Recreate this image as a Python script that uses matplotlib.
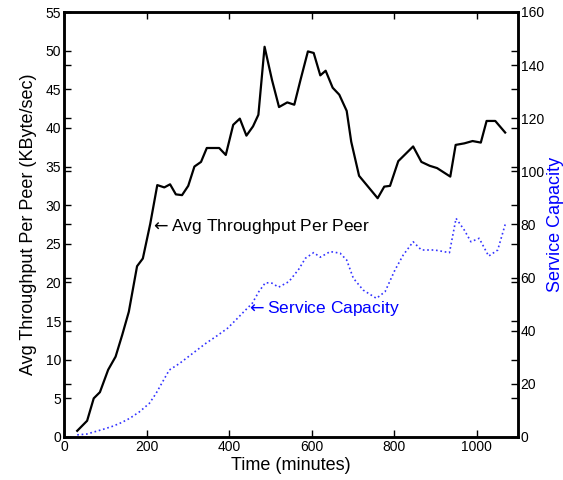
import matplotlib
matplotlib.use("Agg")
import matplotlib.pyplot as plt

plt.rcParams["font.family"] = ["Liberation Sans", "DejaVu Sans"]

# avg throughput per peer (KByte/sec), left axis
time_tp = [32, 56, 72, 87, 107, 125, 141, 157, 177, 191, 209, 226, 243, 257, 271,
           286, 301, 316, 332, 346, 376, 392, 410, 426, 442, 458, 471, 486, 504,
           521, 541, 558, 573, 591, 605, 621, 634, 651, 667, 685, 696, 715, 760,
           776, 790, 810, 846, 866, 886, 904, 936, 949, 970, 990, 1010, 1024,
           1045, 1069]
throughput = [0.8, 2.1, 5.0, 5.8, 8.7, 10.4, 13.2, 16.2, 22.1, 23.1, 27.6, 32.6,
              32.3, 32.7, 31.4, 31.3, 32.5, 35.0, 35.6, 37.4, 37.4, 36.5, 40.4,
              41.2, 39.0, 40.2, 41.7, 50.5, 46.2, 42.7, 43.3, 43.0, 46.2, 49.9,
              49.7, 46.8, 47.4, 45.2, 44.3, 42.2, 38.2, 33.8, 30.9, 32.4, 32.5,
              35.7, 37.6, 35.6, 35.1, 34.8, 33.7, 37.8, 38.0, 38.3, 38.1, 40.9,
              40.9, 39.4]

# service capacity, right axis
time_sc = [32, 55, 75, 95, 119, 139, 159, 183, 207, 223, 239, 255, 280, 312, 344,
           368, 396, 416, 436, 456, 472, 488, 504, 520, 545, 569, 585, 605, 621,
           645, 669, 685, 701, 725, 757, 778, 802, 822, 846, 866, 898, 934, 950,
           970, 986, 1006, 1029, 1051, 1069]
capacity = [0.8, 1.1, 2.0, 2.9, 4.1, 5.4, 7.0, 9.5, 12.7, 16.4, 20.8, 25.2, 27.7,
            31.5, 35.3, 37.8, 40.9, 44.0, 47.2, 50.3, 54.7, 58.1, 57.9, 56.4, 58.5,
            63.2, 67.3, 69.4, 67.7, 69.8, 69.2, 66.6, 59.8, 55.3, 52.2, 54.7, 62.9,
            68.5, 73.5, 70.4, 70.4, 69.4, 82.3, 77.9, 73.5, 74.8, 68.1, 70.4, 80.0]

fig = plt.figure(figsize=(5.63, 4.80), dpi=100)
ax1 = fig.add_axes([0.1137, 0.0896, 0.8063, 0.8854])
ax2 = ax1.twinx()

ax1.plot(time_tp, throughput, color="black", linewidth=1.6)
ax2.plot(time_sc, capacity, color="blue", linestyle=":", linewidth=1.2, alpha=0.8)

ax1.set_xlim(0, 1100)
ax1.set_ylim(0, 55)
ax2.set_ylim(0, 160)
ax1.set_xticks([0, 200, 400, 600, 800, 1000])
ax1.set_yticks(range(0, 56, 5))
ax2.set_yticks(range(0, 161, 20))

ax1.tick_params(direction="in", length=5, width=1, labelsize=10, pad=2,
                top=True, right=True, labelright=False)
ax2.tick_params(direction="in", length=5, width=1, labelsize=10, pad=2,
                left=True, labelleft=False)
for ax in (ax1, ax2):
    for s in ax.spines.values():
        s.set_linewidth(1.8)

ax1.set_xlabel("Time (minutes)", fontsize=13, labelpad=2)
ax1.set_ylabel("Avg Throughput Per Peer (KByte/sec)", fontsize=13, labelpad=6)
ax2.set_ylabel("Service Capacity", fontsize=13, color="blue", labelpad=2)

ax1.text(209, 27.2, r"$\leftarrow$Avg Throughput Per Peer", fontsize=12.5,
         ha="left", va="center", color="black")
ax2.text(442, 48.2, r"$\leftarrow$Service Capacity", fontsize=12.5,
         ha="left", va="center", color="blue")

fig.savefig("out.png", dpi=100)
